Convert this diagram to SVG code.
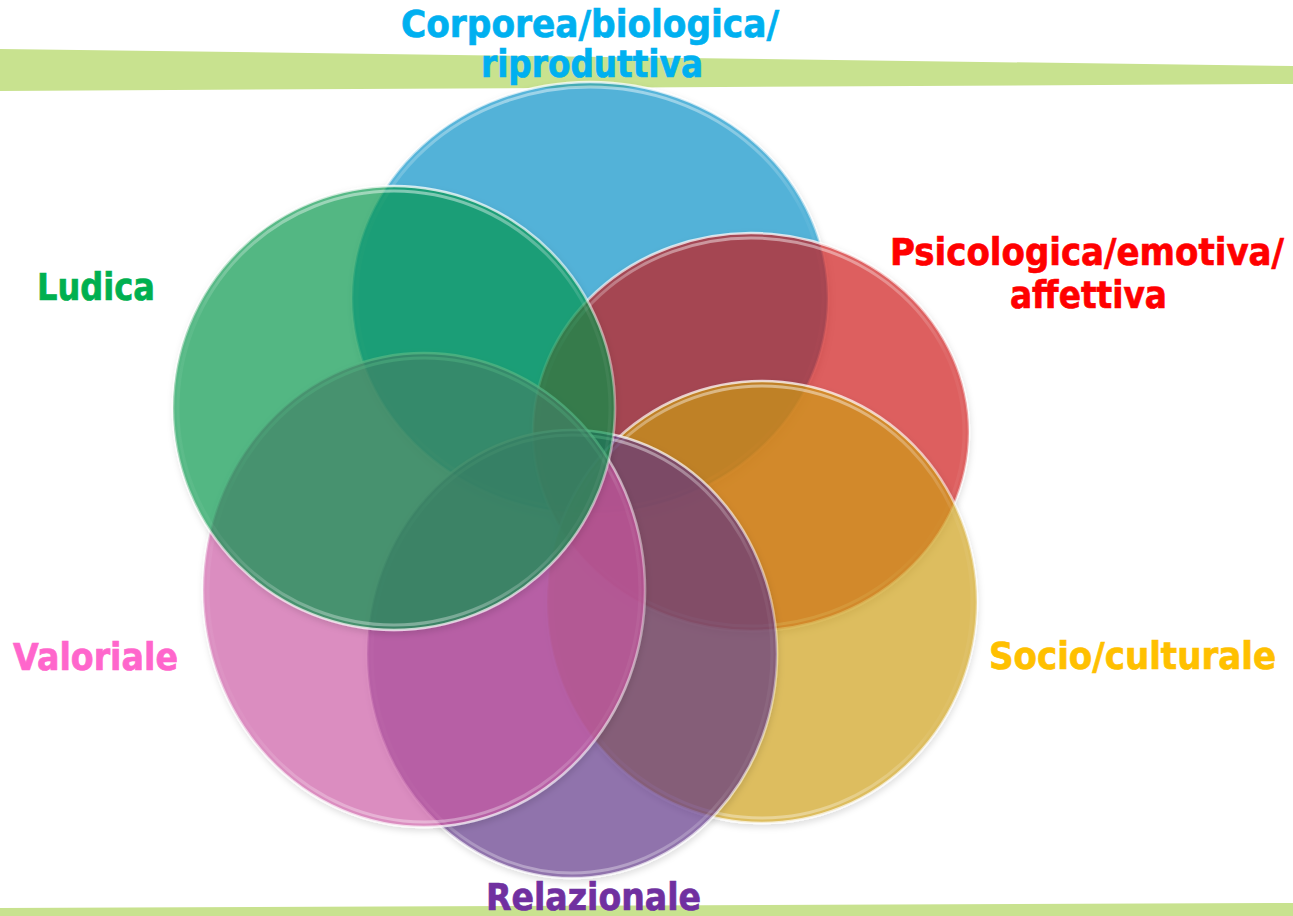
<svg xmlns="http://www.w3.org/2000/svg" width="1293" height="916" viewBox="0 0 1293 916">
  <style>
    .disc { fill-opacity: 0.63; stroke: url(#rim); stroke-width: 2.5; }
    .inner { fill: none; stroke: url(#rimInner); stroke-width: 3; }
    .lbl { font-family: "DejaVu Sans", "Liberation Sans", sans-serif; font-weight: bold; font-size: 37px; stroke-width: 0.7; }
    .band { fill: #c8e28f; }
  </style>
  <defs>
    <linearGradient id="rim" x1="0" y1="0" x2="0" y2="1">
      <stop offset="0" stop-color="#ffffff" stop-opacity="0.75"/>
      <stop offset="0.5" stop-color="#ffffff" stop-opacity="0.35"/>
      <stop offset="1" stop-color="#ffffff" stop-opacity="0.7"/>
    </linearGradient>
    <linearGradient id="rimInner" x1="0" y1="0" x2="0" y2="1">
      <stop offset="0" stop-color="#ffffff" stop-opacity="0.45"/>
      <stop offset="0.3" stop-color="#ffffff" stop-opacity="0.05"/>
      <stop offset="0.8" stop-color="#ffffff" stop-opacity="0.05"/>
      <stop offset="1" stop-color="#ffffff" stop-opacity="0.35"/>
    </linearGradient>
    <filter id="shadow" x="-10%" y="-10%" width="120%" height="120%">
      <feDropShadow dx="1" dy="3" stdDeviation="3" flood-color="#000000" flood-opacity="0.18"/>
    </filter>
  </defs>

  <g id="bands">
    <polygon class="band" points="0,49 1293,66 1293,84 0,91"/>
    <polygon class="band" points="0,908 1293,903 1293,916 0,916"/>
  </g>

  <g id="connectors"/>

  <g id="node-corporea">
    <ellipse class="disc" cx="590" cy="298" rx="238" ry="216" fill="#0391cb" filter="url(#shadow)"/>
    <ellipse class="inner" cx="590" cy="298" rx="233" ry="211"/>
    <text class="lbl" fill="#00b0f0" stroke="#00b0f0" x="401" y="37" textLength="378" lengthAdjust="spacingAndGlyphs">Corporea/biologica/</text>
    <text class="lbl" fill="#00b0f0" stroke="#00b0f0" x="481" y="77" textLength="222" lengthAdjust="spacingAndGlyphs">riproduttiva</text>
  </g>

  <g id="node-psicologica">
    <ellipse class="disc" cx="751" cy="432" rx="218" ry="199" fill="#d30d0f" filter="url(#shadow)"/>
    <ellipse class="inner" cx="751" cy="432" rx="213" ry="194"/>
    <text class="lbl" fill="#ff0000" stroke="#ff0000" x="890" y="265" textLength="394" lengthAdjust="spacingAndGlyphs">Psicologica/emotiva/</text>
    <text class="lbl" fill="#ff0000" stroke="#ff0000" x="1010" y="308" textLength="157" lengthAdjust="spacingAndGlyphs">affettiva</text>
  </g>

  <g id="node-socio">
    <ellipse class="disc" cx="762" cy="602" rx="215" ry="221" fill="#d2a10f" filter="url(#shadow)"/>
    <ellipse class="inner" cx="762" cy="602" rx="210" ry="216"/>
    <text class="lbl" fill="#ffc000" stroke="#ffc000" x="989" y="669" textLength="287" lengthAdjust="spacingAndGlyphs">Socio/culturale</text>
  </g>

  <g id="node-relazionale">
    <ellipse class="disc" cx="572" cy="654" rx="205" ry="224" fill="#5e2f89" filter="url(#shadow)"/>
    <ellipse class="inner" cx="572" cy="654" rx="200" ry="219"/>
    <text class="lbl" fill="#7030a0" stroke="#7030a0" x="486" y="910" textLength="215" lengthAdjust="spacingAndGlyphs">Relazionale</text>
  </g>

  <g id="node-valoriale">
    <ellipse class="disc" cx="424" cy="590" rx="221" ry="237" fill="#d059a6" filter="url(#shadow)"/>
    <ellipse class="inner" cx="424" cy="590" rx="216" ry="232"/>
    <text class="lbl" fill="#ff66cc" stroke="#ff66cc" x="13" y="670" textLength="165" lengthAdjust="spacingAndGlyphs">Valoriale</text>
  </g>

  <g id="node-ludica">
    <ellipse class="disc" cx="394" cy="408" rx="221" ry="222" fill="#089849" filter="url(#shadow)"/>
    <ellipse class="inner" cx="394" cy="408" rx="216" ry="217"/>
    <text class="lbl" fill="#00b050" stroke="#00b050" x="37" y="300" textLength="118" lengthAdjust="spacingAndGlyphs">Ludica</text>
  </g>
</svg>
